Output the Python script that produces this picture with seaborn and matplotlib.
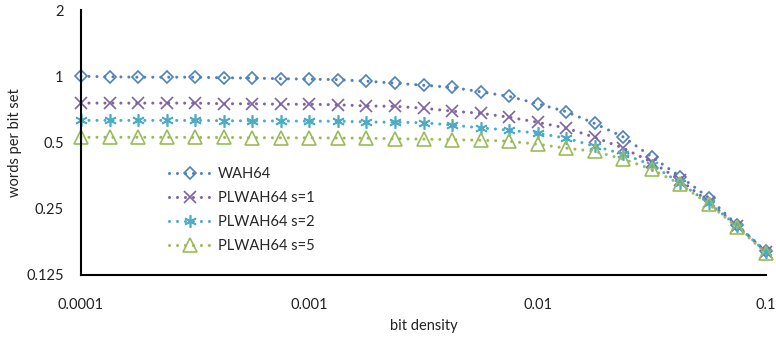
import numpy as np
import pandas as pd
import seaborn as sns
import matplotlib.pyplot as plt
from matplotlib.ticker import FixedLocator, NullFormatter, NullLocator

# bit density: 8 points per decade from 1e-4 to 1e-1
density = [10 ** (-4 + k / 8) for k in range(25)]

wah64 = [1.0, 0.995, 0.99, 0.99, 0.99, 0.985, 0.98, 0.975, 0.97, 0.965,
         0.95, 0.93, 0.91, 0.89, 0.85, 0.81, 0.75, 0.69, 0.61, 0.53,
         0.43, 0.35, 0.28, 0.21, 0.16]
plwah_s1 = [0.755, 0.755, 0.755, 0.755, 0.755, 0.75, 0.75, 0.746, 0.746, 0.742,
            0.733, 0.73, 0.716, 0.694, 0.679, 0.651, 0.618, 0.581, 0.528, 0.471,
            0.407, 0.337, 0.268, 0.209, 0.159]
plwah_s2 = [0.63, 0.63, 0.63, 0.63, 0.63, 0.628, 0.627, 0.626, 0.625, 0.625,
            0.62, 0.618, 0.615, 0.60, 0.583, 0.569, 0.551, 0.523, 0.481, 0.443,
            0.395, 0.327, 0.265, 0.209, 0.159]
plwah_s5 = [0.528, 0.528, 0.528, 0.528, 0.527, 0.527, 0.526, 0.525, 0.525, 0.524,
            0.523, 0.52, 0.518, 0.515, 0.512, 0.507, 0.491, 0.471, 0.456, 0.42,
            0.378, 0.323, 0.262, 0.206, 0.157]

series = [
    ("WAH64", wah64, "#4F81BD", "D", 6.5),
    ("PLWAH64 s=1", plwah_s1, "#8064A2", "x", 8),
    ("PLWAH64 s=2", plwah_s2, "#4BACC6", (6, 2, 0), 9),
    ("PLWAH64 s=5", plwah_s5, "#9BBB59", "^", 9.5),
]

sns.set_style("white")
plt.rcParams["font.family"] = ["Lato", "DejaVu Sans"]
plt.rcParams["font.size"] = 10.5

fig = plt.figure(figsize=(7.76, 3.42), dpi=100)
ax = fig.add_axes([81 / 776, 1 - 275 / 342, (766 - 81) / 776, (275 - 10) / 342])

for name, vals, color, marker, ms in series:
    df = pd.DataFrame({"density": density, "value": vals})
    sns.lineplot(data=df, x="density", y="value", ax=ax, label=name, color=color,
                 linestyle=(0, (0.01, 2.6)), linewidth=2.2, dash_capstyle="round",
                 marker=marker, markersize=ms, markerfacecolor="none",
                 markeredgecolor=color, markeredgewidth=1.2, clip_on=False)

ax.set_xscale("log")
ax.set_yscale("log", base=2)
ax.set_xlim(1e-4, 1e-1)
ax.set_ylim(0.125, 2)

ax.xaxis.set_major_locator(FixedLocator([1e-4, 1e-3, 1e-2, 1e-1]))
ax.set_xticklabels(["0.0001", "0.001", "0.01", "0.1"])
ax.xaxis.set_minor_locator(FixedLocator([10 ** (-4 + k / 4) for k in range(13) if k % 4]))
ax.xaxis.set_minor_formatter(NullFormatter())

ax.yaxis.set_major_locator(FixedLocator([0.125, 0.25, 0.5, 1, 2]))
ax.set_yticklabels(["0.125", "0.25", "0.5", "1", "2"])
ax.yaxis.set_minor_locator(NullLocator())

ax.tick_params(axis="both", which="both", direction="out", length=4.5, width=1,
               color="black", labelcolor="#222222", pad=8)
ax.tick_params(axis="x", which="major", pad=12)

for side in ["top", "right"]:
    ax.spines[side].set_visible(False)
for side in ["left", "bottom"]:
    ax.spines[side].set_color("black")
    ax.spines[side].set_linewidth(1.5)

ax.set_xlabel("bit density", color="#222222", labelpad=5)
ax.set_ylabel("words per bit set", color="#222222", labelpad=3)

ax.legend(loc="upper left", bbox_to_anchor=(162 / 776, 1 - 160 / 342),
          bbox_transform=fig.transFigure, frameon=False, handlelength=2.8,
          handletextpad=0.55, labelspacing=0.68, borderpad=0)

fig.savefig("out.png", dpi=100)
